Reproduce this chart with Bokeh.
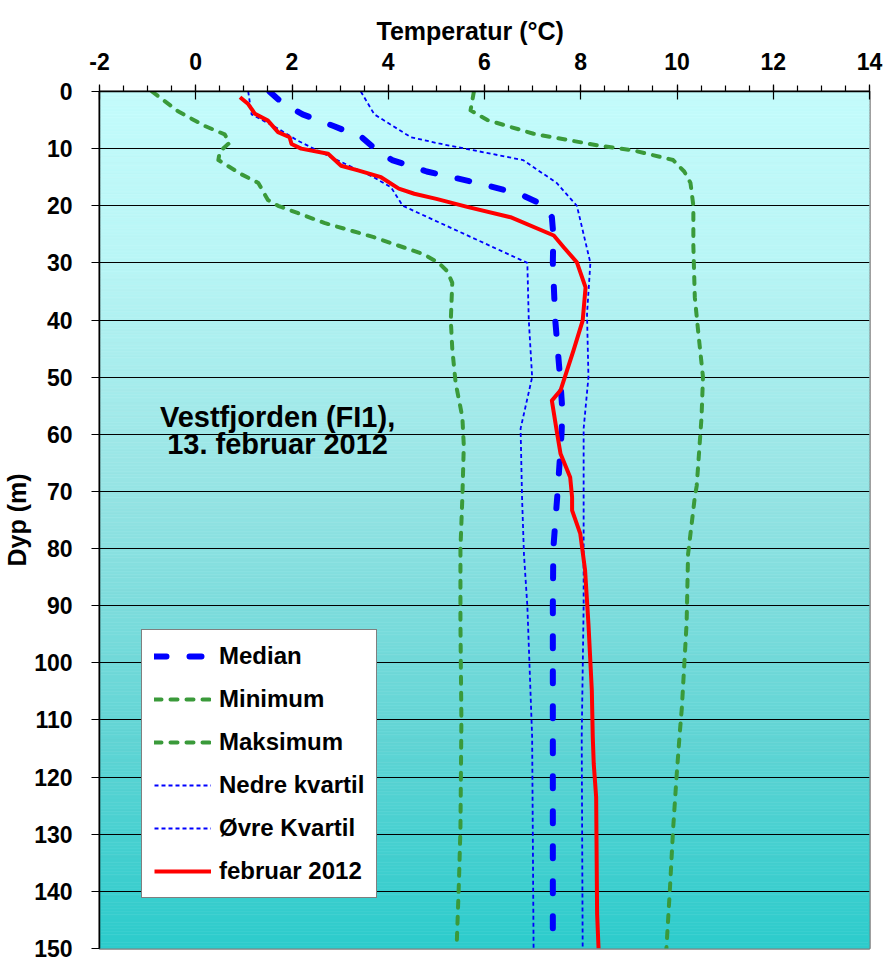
import numpy as np
from bokeh.plotting import figure
from bokeh.models import Range1d, SingleIntervalTicker, Legend, LegendItem, Label, PrintfTickFormatter
from bokeh.embed import file_html
from bokeh.resources import INLINE

# ---------------- data ----------------
median_depth = [0, 2, 4, 6, 8, 10, 12, 14, 16, 18, 20, 22, 25, 30, 40, 50, 56, 60, 70, 80, 90, 100, 150]
median_temp = [1.53, 1.8, 2.22, 2.85, 3.45, 3.72, 4.08, 4.8, 5.85, 6.75, 7.25, 7.4, 7.43, 7.42, 7.47,
               7.57, 7.62, 7.6, 7.52, 7.43, 7.42, 7.42, 7.42]

min_depth = [0, 3.5, 6, 7.5, 9, 10.5, 12, 14.5, 16, 19, 20, 23, 25.5, 28.5, 30, 31.5, 33.5, 40, 45,
             51, 57, 62, 71, 80, 93, 110, 129, 138, 150]
min_temp = [-0.91, -0.36, 0.18, 0.6, 0.7, 0.5, 0.47, 0.95, 1.3, 1.5, 1.71, 2.67, 3.7, 4.74, 5.05, 5.23,
            5.33, 5.3, 5.33, 5.4, 5.54, 5.57, 5.54, 5.5, 5.5, 5.52, 5.5, 5.47, 5.42]

max_depth = [0, 3.3, 5, 7.4, 9.5, 10.3, 12, 14, 16, 20, 27, 36, 42, 50, 57, 69, 71, 81, 93, 108, 112,
             120, 129, 140, 150]
max_temp = [5.78, 5.71, 6.06, 7.02, 8.4, 9.09, 9.92, 10.15, 10.28, 10.34, 10.34, 10.37, 10.44, 10.54,
            10.51, 10.41, 10.37, 10.23, 10.2, 10.1, 10.06, 9.99, 9.92, 9.85, 9.78]

lowq_depth = [0, 4, 6.5, 8.6, 11.5, 15, 16.8, 20, 30, 40, 50, 59, 71, 81, 90, 113, 150]
lowq_temp = [1.09, 1.16, 1.71, 2.12, 2.81, 3.7, 4.06, 4.3, 6.89, 6.92, 6.99, 6.75, 6.78, 6.82, 6.89,
             6.99, 7.02]

upq_depth = [0, 4, 8, 9.1, 10, 12, 16, 20, 30, 39, 50, 59, 71, 90, 113, 150]
upq_temp = [3.43, 3.71, 4.47, 5.05, 5.6, 6.8, 7.5, 7.92, 8.2, 8.13, 8.16, 8.06, 8.06, 8.06, 8.02, 8.04]

feb_depth = [1, 2.2, 3.9, 5.1, 7.1, 8, 9.2, 10, 10.9, 13, 13.8, 15, 17, 17.9, 18.8, 20.2, 22, 25.2,
             27.3, 29.9, 34.3, 40.1, 45.3, 52.3, 54.1, 59.9, 63.4, 67.5, 71, 73.3, 77.4, 83.8, 93.2,
             104.8, 113, 117.7, 123.5, 144, 150]
feb_temp = [0.92, 1.09, 1.23, 1.5, 1.71, 1.95, 1.99, 2.19, 2.75, 3.02, 3.37, 3.85, 4.22, 4.54, 5.0,
            5.64, 6.54, 7.44, 7.65, 7.92, 8.1, 8.04, 7.85, 7.58, 7.4, 7.51, 7.58, 7.78, 7.82, 7.82,
            7.99, 8.09, 8.16, 8.23, 8.25, 8.27, 8.32, 8.34, 8.37]

legend_labels = ["Median", "Minimum", "Maksimum", "Nedre kvartil", "Øvre Kvartil", "februar 2012"]
note_lines = ["Vestfjorden (FI1),", "13. februar 2012"]
x_title = "Temperatur (°C)"
y_title = "Dyp (m)"

# ---------------- figure ----------------
FONT = "Liberation Sans"

p = figure(width=893, height=974, output_backend="svg", toolbar_location=None,
           x_range=Range1d(-2, 14), y_range=Range1d(150, 0), x_axis_location="above",
           min_border_left=98, min_border_right=24, min_border_top=91, min_border_bottom=26)
p.background_fill_color = "white"
p.border_fill_color = "white"

# x-axis title (as the figure title, shifted slightly left like the reference)
p.title.text = x_title
p.title.align = "left"
p.title.offset = 277
p.title.standoff = 10
p.title.text_font = FONT
p.title.text_font_style = "bold"
p.title.text_font_size = "25px"
p.title.text_color = "black"

# gradient background of the plot area
grad_d = [0, 30, 70, 113, 150]
grad_r = [196, 185, 150, 98, 45]
grad_g = [252, 246, 228, 213, 204]
edges = np.linspace(0, 150, 301)
mids = (edges[:-1] + edges[1:]) / 2
rr = np.interp(mids, grad_d, grad_r)
gg = np.interp(mids, grad_d, grad_g)
cols = ["#%02x%02x%02x" % (int(r), int(g), int(g)) for r, g in zip(rr, gg)]
p.quad(left=-2, right=14, top=edges[:-1], bottom=edges[1:], fill_color=cols,
       line_color=cols, line_width=0.6, level="image")

# axes
xa = p.xaxis[0]
xa.ticker = SingleIntervalTicker(interval=2, num_minor_ticks=4)
xa.formatter = PrintfTickFormatter(format="%d")
ya = p.yaxis[0]
ya.ticker = SingleIntervalTicker(interval=10, num_minor_ticks=0)
ya.formatter = PrintfTickFormatter(format="%d")
ya.axis_label = y_title
for ax in (xa, ya):
    ax.axis_label_text_font = FONT
    ax.axis_label_text_font_style = "bold"
    ax.axis_label_text_font_size = "25px"
    ax.axis_label_text_color = "black"
    ax.major_label_text_font = FONT
    ax.major_label_text_font_style = "bold"
    ax.major_label_text_font_size = "23px"
    ax.major_label_text_color = "black"
    ax.axis_line_color = "black"
    ax.axis_line_width = 1.5
    ax.major_tick_line_color = "black"
    ax.major_tick_line_width = 1.2
    ax.minor_tick_line_color = "black"
    ax.minor_tick_line_width = 1.2
xa.major_label_standoff = 15
ya.major_label_standoff = 19
ya.axis_label_standoff = 0
xa.major_tick_out = 7
xa.major_tick_in = 8
xa.minor_tick_out = 6
xa.minor_tick_in = 0
ya.major_tick_out = 8
ya.major_tick_in = 0
ya.minor_tick_line_color = None

p.xgrid.grid_line_color = None
p.ygrid.ticker = ya.ticker
p.ygrid.grid_line_color = "black"
p.ygrid.grid_line_width = 1.2

p.outline_line_color = "#808080"
p.outline_line_width = 2.5

# ---------------- lines ----------------
GREEN = "#3A9A3A"
r_min = p.line(min_temp, min_depth, line_color=GREEN, line_width=4, line_dash="7 9",
               line_cap="round", line_join="round")
r_max = p.line(max_temp, max_depth, line_color=GREEN, line_width=4, line_dash="7 9",
               line_cap="round", line_join="round")
r_lq = p.line(lowq_temp, lowq_depth, line_color="#0000FF", line_width=1.8, line_dash="4 3",
              line_join="round")
r_uq = p.line(upq_temp, upq_depth, line_color="#0000FF", line_width=1.8, line_dash="4 3",
              line_join="round")
r_med = p.line(median_temp, median_depth, line_color="#0000FF", line_width=6, line_dash="12 23",
               line_cap="round", line_join="round")
r_feb = p.line(feb_temp, feb_depth, line_color="#FF0000", line_width=4, line_join="round")

renderers = [r_med, r_min, r_max, r_lq, r_uq, r_feb]
legend = Legend(items=[LegendItem(label=lab, renderers=[r]) for lab, r in zip(legend_labels, renderers)],
                location=(42, 50), border_line_color="black", border_line_width=1,
                background_fill_color="white", background_fill_alpha=1.0,
                label_text_font=FONT, label_text_font_style="bold", label_text_font_size="24px",
                label_text_color="black", glyph_width=57, glyph_height=20, label_height=20,
                label_standoff=8, spacing=15, padding=12, margin=0)
p.add_layout(legend)

# annotation
for txt, yy in zip(note_lines, [56.9, 61.7]):
    p.add_layout(Label(x=1.7, y=yy, text=txt, text_align="center", text_baseline="alphabetic",
                       text_font=FONT, text_font_style="bold", text_font_size="29px",
                       text_color="black"))

open("out.html", "w").write(file_html(p, INLINE))
